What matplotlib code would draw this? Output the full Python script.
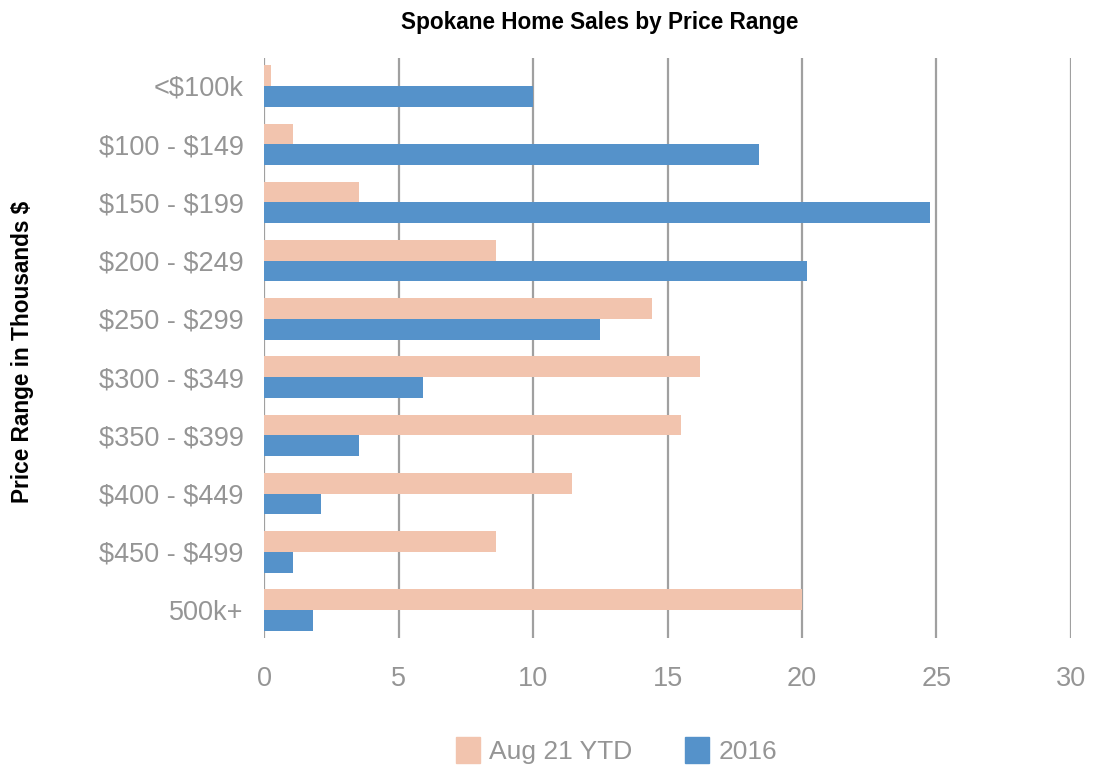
import matplotlib.pyplot as plt
import numpy as np
from matplotlib.patches import Patch

plt.rcParams['text.parse_math'] = False

# data
price_ranges = ['<$100k', '$100 - $149', '$150 - $199', '$200 - $249', '$250 - $299',
                '$300 - $349', '$350 - $399', '$400 - $449', '$450 - $499', '500k+']
aug_ytd = [0.23, 1.05, 3.5, 8.6, 14.4, 16.2, 15.5, 11.45, 8.6, 20.0]
sales_2016 = [10.0, 18.4, 24.75, 20.2, 12.5, 5.9, 3.5, 2.1, 1.05, 1.8]

peach = '#f2c4ae'
blue = '#5592ca'
gray_txt = '#959595'
fonts = ['Liberation Sans Narrow', 'Liberation Sans', 'DejaVu Sans']

fig = plt.figure(figsize=(10.95, 7.66), dpi=100)
ax = fig.add_axes([0.2415, 0.167, 0.7365, 0.7573])

y = np.arange(len(price_ranges))
h = 0.355
ax.barh(y - h / 2, aug_ytd, height=h, color=peach, label='Aug 21 YTD', zorder=3)
ax.barh(y + h / 2, sales_2016, height=h, color=blue, label='2016', zorder=3)

ax.set_xlim(0, 30)
ax.set_ylim(len(price_ranges) - 0.52, -0.48)
ax.set_xticks(range(0, 31, 5))
ax.set_yticks(y)
ax.set_yticklabels(price_ranges, va='top')
ax.grid(axis='x', color='#a0a0a0', linewidth=1.6, zorder=0)
ax.tick_params(length=0, labelsize=19.5, labelcolor=gray_txt)
ax.tick_params(axis='y', pad=15)
ax.tick_params(axis='x', pad=20)
for lbl in ax.get_xticklabels() + ax.get_yticklabels():
    lbl.set_family(fonts)
for lbl in ax.get_yticklabels():
    lbl.set_va('center_baseline')
for s in ax.spines.values():
    s.set_visible(False)

fig.text(0.5475, 0.971, 'Spokane Home Sales by Price Range', ha='center', va='center',
         fontsize=16.3, fontweight='bold', family=fonts)
fig.text(0.021, 0.54, 'Price Range in Thousands $', ha='center', va='center', rotation=90,
         fontsize=16.3, fontweight='bold', family=fonts)

handles = [Patch(color=peach), Patch(color=blue)]
leg = fig.legend(handles, ['Aug 21 YTD', '2016'], loc='center', bbox_to_anchor=(0.563, 0.02),
                 ncol=2, frameon=False, handlelength=0.9, handleheight=1.1, handletextpad=0.35,
                 columnspacing=2.0, prop={'family': fonts, 'size': 19})
for t in leg.get_texts():
    t.set_color(gray_txt)

fig.savefig('out.png', dpi=100)
